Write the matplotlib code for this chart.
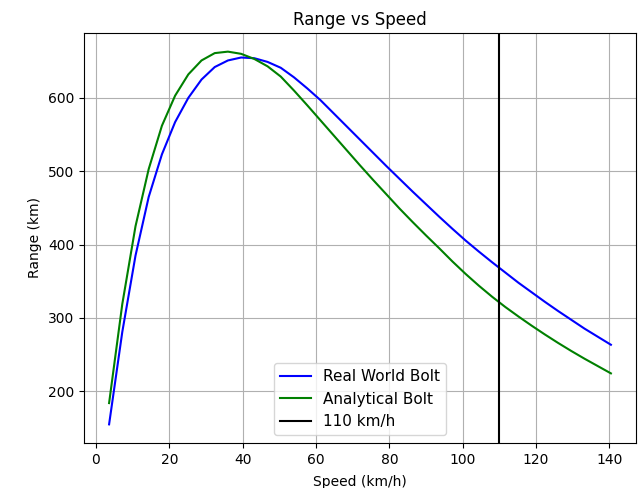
import matplotlib
matplotlib.use('Agg')
import matplotlib.pyplot as plt

# speed samples, 1..39 m/s expressed in km/h
speed = [3.6 * i for i in range(1, 40)]

real_world = [155, 281, 385, 465, 523, 567, 600, 625, 642, 651,
              655, 654, 649, 641, 628, 613, 597, 579, 561, 543,
              525, 507, 489.5, 472, 455, 438, 421.5, 405.5, 390.5, 376,
              362, 348, 335, 322, 309.5, 297.5, 285.5, 274.5, 263.5]

analytical = [184, 319, 425, 503, 562, 603, 632, 651, 661, 663,
              660, 653, 643, 629, 610, 590, 569.5, 549, 528.5, 508,
              488, 468.5, 449, 430.5, 412.5, 395, 377, 360, 344, 329,
              315, 302, 289.5, 277.5, 266, 255, 244.5, 234.5, 224.5]

limit_speed = 110

fig = plt.figure(figsize=(6.39, 4.88), dpi=100)
ax = fig.add_subplot(111)
fig.subplots_adjust(left=84/639, right=636/639, top=1-33/488, bottom=1-443/488)

ax.plot(speed, real_world, color='b', label='Real World Bolt')
ax.plot(speed, analytical, color='g', label='Analytical Bolt')
ax.axvline(limit_speed, color='k', label='110 km/h')

ax.set_title('Range vs Speed')
ax.set_xlabel('Speed (km/h)', labelpad=6)
ax.set_ylabel('Range (km)')
ax.grid(True)
ax.legend(loc='lower center', fontsize=11)

fig.savefig('out.png', dpi=100)
